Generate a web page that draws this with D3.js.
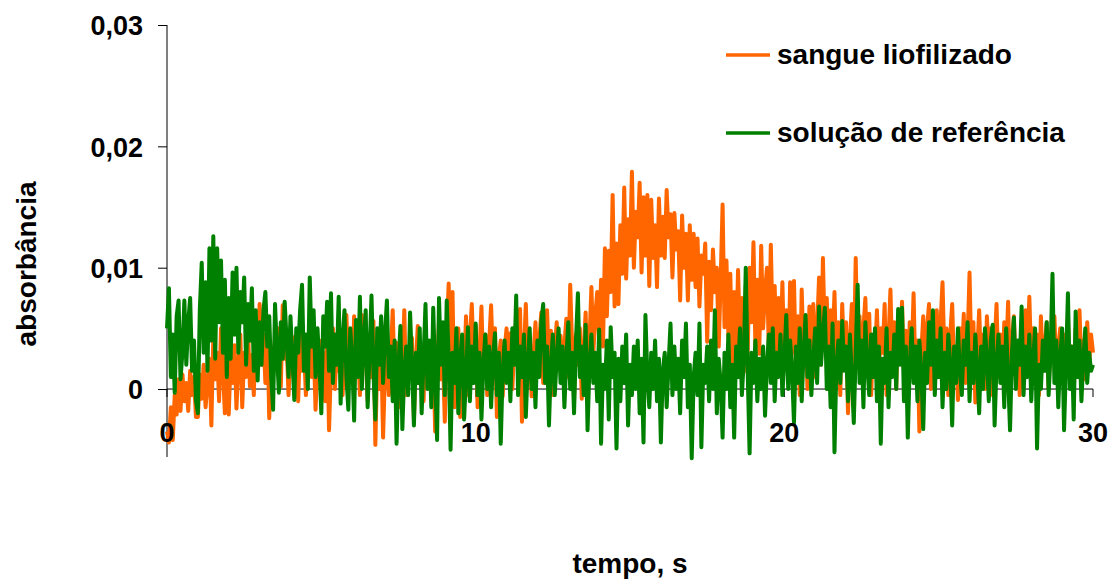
<!DOCTYPE html>
<html>
<head>
<meta charset="utf-8">
<script src="https://cdnjs.cloudflare.com/ajax/libs/d3/7.8.5/d3.min.js"></script>
<style>
  body { margin: 0; background: #fff; }
  svg text { font-family: "Liberation Sans", Arial, sans-serif; font-weight: bold; fill: #000; }
</style>
</head>
<body>
<div id="chart"></div>
<script>
// Sampling step of both records, in seconds
var dt = 0.0625;

// absorbance x 1000, one value every dt seconds (0 .. 30 s), one row per second
var sangueLiofilizado = [
  -3.5, -4.4, -1.5, -4.2, -0.5, -2.1, 0.8, -1.8, 1.2, -1.0, 0.5, -1.8, 1.5, -0.5, 1.0, -2.3,
  -2.3, 1.2, -0.8, 2.0, -1.5, 0.5, 2.5, -3.0, 4.3, 0.8, 3.0, -1.0, 5.0, 1.5, -2.0, 3.5,
  -2.1, 2.5, 0.5, 3.6, -1.6, 2.0, 4.5, -1.5, 3.0, 1.0, 4.8, 0.2, 2.8, -0.5, 5.5, 1.5,
  7.0, 2.0, 4.5, 0.5, 5.4, -2.4, 3.0, 1.0, 4.2, 2.0, 5.0, 0.2, 6.9, 2.5, 4.0, -0.5,
  3.2, 4.3, 0.0, 2.8, -1.0, 4.5, 1.5, 3.5, -0.5, 2.5, 5.0, 1.0, 3.8, -1.7, 2.0, 4.0,
  0.5, 3.0, -1.0, 4.5, -3.4, 2.0, 5.0, 0.0, 3.5, 1.5, 4.2, -0.5, 2.8, 6.1, 1.0, 3.5,
  0.5, 6.0, 1.5, 4.0, -0.5, 6.1, 2.0, 3.2, -1.0, 4.5, 1.0, 5.6, -4.6, 2.5, 0.0, 3.8,
  -4.0, 1.5, 3.5, -0.5, 2.8, 6.5, 0.5, 3.8, -1.5, 4.0, 1.0, 6.5, -0.5, 3.0, 1.5, 4.2,
  -2.5, 2.0, 5.2, 0.5, 3.5, -1.0, 4.6, 1.2, 2.5, -0.5, 3.8, -3.5, 2.0, 5.5, 0.8, 3.0,
  -2.7, 4.5, 8.7, 3.0, 8.0, -1.5, 2.5, 5.0, -2.3, 3.5, 1.0, 6.0, -0.5, 4.2, 7.0, 2.0,
  5.2, -1.5, 3.0, 6.8, 1.0, 4.5, -0.5, 3.8, 6.9, 2.0, 5.0, -2.3, 2.5, 4.0, -0.6, 3.2,
  5.0, 1.5, 4.6, 0.0, 3.5, 5.7, 2.0, 6.6, -2.7, 3.0, 7.0, 1.0, 4.2, -0.6, 2.8, 5.5,
  1.5, 4.0, 6.3, 0.5, 3.5, 6.5, 1.8, 4.8, -0.5, 3.0, 5.5, 2.0, 4.4, 0.8, 3.6, 5.8,
  1.0, 8.6, 3.5, -0.9, 4.5, 2.0, 5.0, -0.8, 3.2, 6.3, 0.5, 4.0, 8.4, 3.0, 6.0, 8.0,
  4.0, 9.0, 3.5, 11.6, 6.0, 11.4, 8.0, 16.0, 6.8, 12.0, 7.0, 13.5, 9.5, 16.6, 9.1, 14.0,
  11.0, 17.9, 10.0, 14.6, 12.5, 17.0, 9.6, 15.8, 11.0, 16.0, 8.5, 15.6, 10.8, 13.5, 8.4, 15.7,
  11.0, 14.2, 10.8, 16.4, 12.5, 14.4, 9.2, 14.5, 11.5, 13.0, 7.3, 14.3, 10.0, 12.8, 7.3, 13.5,
  9.0, 12.8, 8.4, 12.4, 6.8, 11.0, 9.5, 12.0, 3.9, 10.5, 6.5, 11.5, 8.0, 10.0, 3.5, 9.0,
  15.2, 5.1, 10.6, 4.3, 9.5, 1.3, 8.0, 2.4, 9.8, 4.0, 7.5, 1.4, 8.5, 3.0, 10.0, 5.5,
  12.1, 3.5, 9.0, 2.9, 11.8, 5.0, 8.0, 10.0, 2.9, 11.9, 4.5, 8.5, 1.5, 7.5, 3.0, 8.8,
  2.0, 6.5, 0.5, 8.8, 3.0, 8.9, 1.5, 6.0, -0.5, 8.2, 2.5, 5.5, 0.0, 6.8, 3.5, 7.0,
  1.0, 5.0, 9.2, 2.0, 10.8, 4.0, 7.5, 0.5, 6.5, 3.0, 8.0, 1.2, 5.5, -0.5, 7.0, 2.5,
  5.5, -2.0, 4.0, 7.0, 1.5, 10.8, 3.0, 6.0, 0.5, 5.0, 7.5, 2.0, 6.2, -0.5, 4.5, 2.5,
  6.5, 1.0, 5.0, 3.0, 7.0, -0.5, 4.0, 8.2, 2.0, 5.5, 0.0, 6.0, 3.5, 7.2, 1.5, 4.8,
  -1.0, 5.5, 2.5, 7.9, 0.5, 4.0, -3.5, 3.0, 6.0, 1.5, 5.0, 7.0, 0.0, 4.5, 2.0, 6.5,
  1.0, 5.5, 8.8, 2.5, 5.0, -0.5, 4.5, 7.0, 1.5, 3.5, -0.9, 5.0, 2.0, 6.2, 0.5, 4.0,
  9.6, 2.0, 5.5, -1.1, 3.0, 6.5, 1.5, 4.5, 0.0, 6.0, 2.5, 5.0, -0.5, 3.5, 7.0, 1.0,
  4.5, 0.5, 5.5, 2.5, 7.2, 0.0, 4.0, 6.0, 1.5, 3.5, -0.5, 5.5, 2.0, 6.5, 3.0, 7.6,
  2.0, 5.0, 0.5, 4.5, -0.5, 6.0, 1.5, 3.5, 5.5, 0.0, 4.0, 2.5, 6.0, 1.0, 3.5, 5.0,
  0.5, 4.5, 2.0, 6.0, 1.0, 3.5, -0.5, 5.0, 2.5, 6.5, 1.5, 4.0, 0.8, 5.5, 2.0, 4.5,
  3.0
];

var solucaoReferencia = [
  5.0, 8.3, 1.0, 4.5, -0.3, 6.0, 7.3, 0.8, 3.0, 7.3, 2.0, 5.5, 7.5, 1.5, 4.0, -0.9,
  -2.0, 6.5, 10.4, 3.0, 8.8, 1.5, 11.6, 4.0, 12.6, 2.5, 11.6, 5.5, 10.6, 3.0, 9.0, 1.0,
  7.5, 2.5, 9.6, 4.5, 10.0, 3.0, 8.0, 5.5, 9.2, 2.0, 7.0, 4.0, 8.3, 1.5, 6.5, 0.7,
  5.5, 2.0, 6.5, 8.0, 3.5, 6.0, 1.0, -1.7, 7.0, 3.0, -0.3, 5.5, 2.5, 7.2, 4.0, 1.0,
  6.0, 2.5, -0.9, 5.0, 3.0, 6.5, 8.6, 1.5, 4.5, 0.0, 9.2, 3.5, 6.5, 1.0, 5.0, 2.0,
  -2.0, 6.0, 3.5, 7.2, 1.5, 7.9, 0.5, 4.5, 2.0, 7.6, -1.2, 4.0, 6.5, 1.0, -1.7, 5.0,
  2.5, -2.6, 5.7, 1.0, 7.6, 0.0, 4.0, 6.5, -1.5, 3.0, 7.7, 1.5, -2.5, 5.0, 2.0, 6.0,
  0.5, 4.5, 7.3, 1.0, 3.5, -1.0, 4.0, -4.5, 2.0, 5.2, -3.3, 1.5, 3.5, -0.5, 6.3, 2.0,
  -3.0, 3.0, 0.5, 5.0, -2.0, 2.5, 7.0, 0.0, 4.0, -1.5, 6.7, 1.0, -4.2, 7.5, 2.0, 5.5,
  -0.5, 7.3, 2.5, -5.0, 3.0, 0.5, 5.0, -2.0, 2.5, 4.5, -2.5, 1.0, 5.1, -1.0, 3.5, 0.5,
  5.4, -0.5, 3.0, -2.5, 2.0, 4.5, 0.0, 3.5, -1.5, 2.5, 4.6, -0.5, 3.0, -4.5, 1.5, 4.0,
  0.5, 3.0, -1.0, 5.0, 2.0, 7.7, -0.5, 3.5, 1.0, 4.5, -2.3, 2.0, 5.0, 0.0, 3.0, -1.5,
  4.0, 1.0, 5.5, 7.0, 0.5, 3.5, -3.0, 2.0, 4.5, -0.5, 2.5, 5.0, 0.5, 3.5, -1.5, 2.5,
  5.5, 0.0, 3.0, -2.0, 4.0, 7.9, 1.0, 3.5, -0.5, 5.3, -3.4, 2.0, 4.5, 0.5, 3.0, -1.0,
  4.9, -4.5, 2.0, 0.0, 4.0, -2.5, 5.1, 1.0, 3.0, -4.9, 2.5, -1.0, 3.5, 0.5, 4.5, -3.0,
  2.0, -0.5, 3.5, 0.0, 4.0, -2.0, 2.5, -4.4, 6.1, 1.0, -1.5, 3.0, 0.0, 4.0, -1.0, 2.5,
  -4.4, 1.5, 3.0, -1.5, 2.0, 5.4, -0.5, 3.5, 0.0, 2.5, -2.0, 4.0, 1.0, 5.4, -1.5, 2.0,
  -5.7, 1.0, 3.0, -0.5, 5.4, -4.8, 2.0, 0.5, 3.5, -1.0, 4.0, 0.0, 6.5, -2.0, 2.5, 0.5,
  -4.0, 3.0, 0.0, 4.5, -1.5, 2.0, -4.0, 3.5, 1.0, 5.0, -0.5, 2.5, 10.0, 1.5, -5.3, 3.0,
  0.5, 4.0, -1.0, 2.5, 0.0, 3.5, -2.2, 2.0, 4.5, 0.5, 5.0, -1.0, 3.0, 1.0, 4.5, -0.5,
  2.5, 6.1, 0.0, 4.0, 1.5, -2.8, 3.5, 0.5, 5.0, -1.0, 3.0, 6.1, 1.0, 4.0, -0.5, 2.5,
  5.0, 0.5, 6.8, 2.0, 4.5, 6.7, 0.0, 3.5, -1.5, 5.4, -5.2, 2.0, 4.0, 0.5, 5.6, 1.5,
  3.5, -1.0, 4.5, 1.0, -2.8, 3.0, 8.6, 0.5, 4.0, -1.5, 5.5, 2.0, -0.5, 4.5, 1.0, 5.0,
  -1.0, 3.5, -4.5, 2.5, 0.5, 5.0, -1.5, 3.0, 1.0, 4.5, 0.0, 6.6, 2.0, 6.7, -1.0, 3.5,
  -4.0, 2.0, 5.0, 0.5, 3.5, -1.0, 4.0, 1.5, -3.3, 3.0, 0.5, 5.5, 2.0, 6.5, -0.5, 4.0,
  1.0, 5.0, -1.5, 3.0, 0.0, 4.5, 2.0, -3.0, 3.5, 0.5, 5.0, 1.5, -0.5, 4.0, 2.0, 5.5,
  -1.0, 3.0, 0.5, 4.5, 1.5, -2.0, 3.5, 0.0, 5.0, 2.5, -1.0, 4.0, 5.3, -3.0, 2.0, 4.5,
  0.5, 3.5, -1.5, 5.0, 1.0, -3.4, 3.0, 5.9, 0.0, 4.0, 2.0, 6.8, -0.5, 3.5, 1.0, 4.5,
  -1.0, 2.5, 5.0, -4.9, 2.0, 0.0, 4.0, 1.5, 5.5, -0.5, 3.0, 9.5, 0.5, 4.0, -1.5, 2.5,
  5.0, -3.4, 2.0, 7.9, 0.0, 3.5, -2.5, 6.4, 1.0, 4.0, -1.0, 2.5, 5.0, 0.5, 3.0, 1.5,
  2.0
];

var seriesNames = ['sangue liofilizado', 'solução de referência'];
var seriesColors = ['#ff6600', '#008000'];
var yTicks = [0, 0.01, 0.02, 0.03];
var yTickLabels = ['0', '0,01', '0,02', '0,03'];
var xTicks = [0, 10, 20, 30];

var width = 1110, height = 580;

var svg = d3.select('#chart').append('svg')
            .attr('width', width)
            .attr('height', height);

// Plot area in page pixels
var x = d3.scaleLinear().domain([0, 30]).range([167, 1093]);
var y = d3.scaleLinear().domain([-0.0056, 0.03]).range([457, 25]);

// y axis on the left, ticks outside
var yAxis = d3.axisLeft(y)
              .tickValues(yTicks)
              .tickSize(9)
              .tickPadding(15)
              .tickFormat(function(d, i) { return yTickLabels[i]; });

var gy = svg.append('g')
            .attr('transform', 'translate(' + x(0) + ',0)')
            .call(yAxis);
gy.select('.domain').attr('d', 'M0,' + y(-0.0056) + 'V' + y(0.03));
gy.selectAll('text').style('font-size', '27px').attr('dy', '0.36em');

// x axis crosses at zero; labels sit lower, near the bottom of the range
var gx = svg.append('g').attr('transform', 'translate(0,' + y(0) + ')');
gx.append('line')
  .attr('x1', x(0)).attr('x2', x(30))
  .attr('stroke', '#000');
gx.selectAll('line.tick').data(xTicks).enter()
  .append('line')
  .attr('class', 'tick')
  .attr('x1', function(d) { return x(d); })
  .attr('x2', function(d) { return x(d); })
  .attr('y1', 0).attr('y2', 8)
  .attr('stroke', '#000');

// series lines (orange first, green on top)
var line = d3.line()
             .x(function(d, i) { return x(i * dt); })
             .y(function(d) { return y(d / 1000); });

[sangueLiofilizado, solucaoReferencia].forEach(function(values, k) {
  svg.append('path')
     .datum(values)
     .attr('d', line)
     .attr('fill', 'none')
     .attr('stroke', seriesColors[k])
     .attr('stroke-width', 4)
     .attr('stroke-linejoin', 'round');
});

svg.append('g').selectAll('text').data(xTicks).enter()
   .append('text')
   .attr('x', function(d) { return x(d); })
   .attr('y', 442)
   .attr('text-anchor', 'middle')
   .style('font-size', '27px')
   .text(function(d) { return d; });

// axis titles
svg.append('text')
   .attr('x', 630).attr('y', 573)
   .attr('text-anchor', 'middle')
   .style('font-size', '28px')
   .text('tempo, s');

svg.append('text')
   .attr('transform', 'translate(36,264) rotate(-90)')
   .attr('text-anchor', 'middle')
   .style('font-size', '28px')
   .text('absorbância');

// legend
var legend = svg.append('g');
seriesNames.forEach(function(name, k) {
  var ly = 55 + k * 78;
  legend.append('line')
        .attr('x1', 726).attr('x2', 770)
        .attr('y1', ly).attr('y2', ly)
        .attr('stroke', seriesColors[k])
        .attr('stroke-width', 3.5);
  legend.append('text')
        .attr('x', 777).attr('y', ly + 9)
        .style('font-size', '28px')
        .text(name);
});
</script>
</body>
</html>
